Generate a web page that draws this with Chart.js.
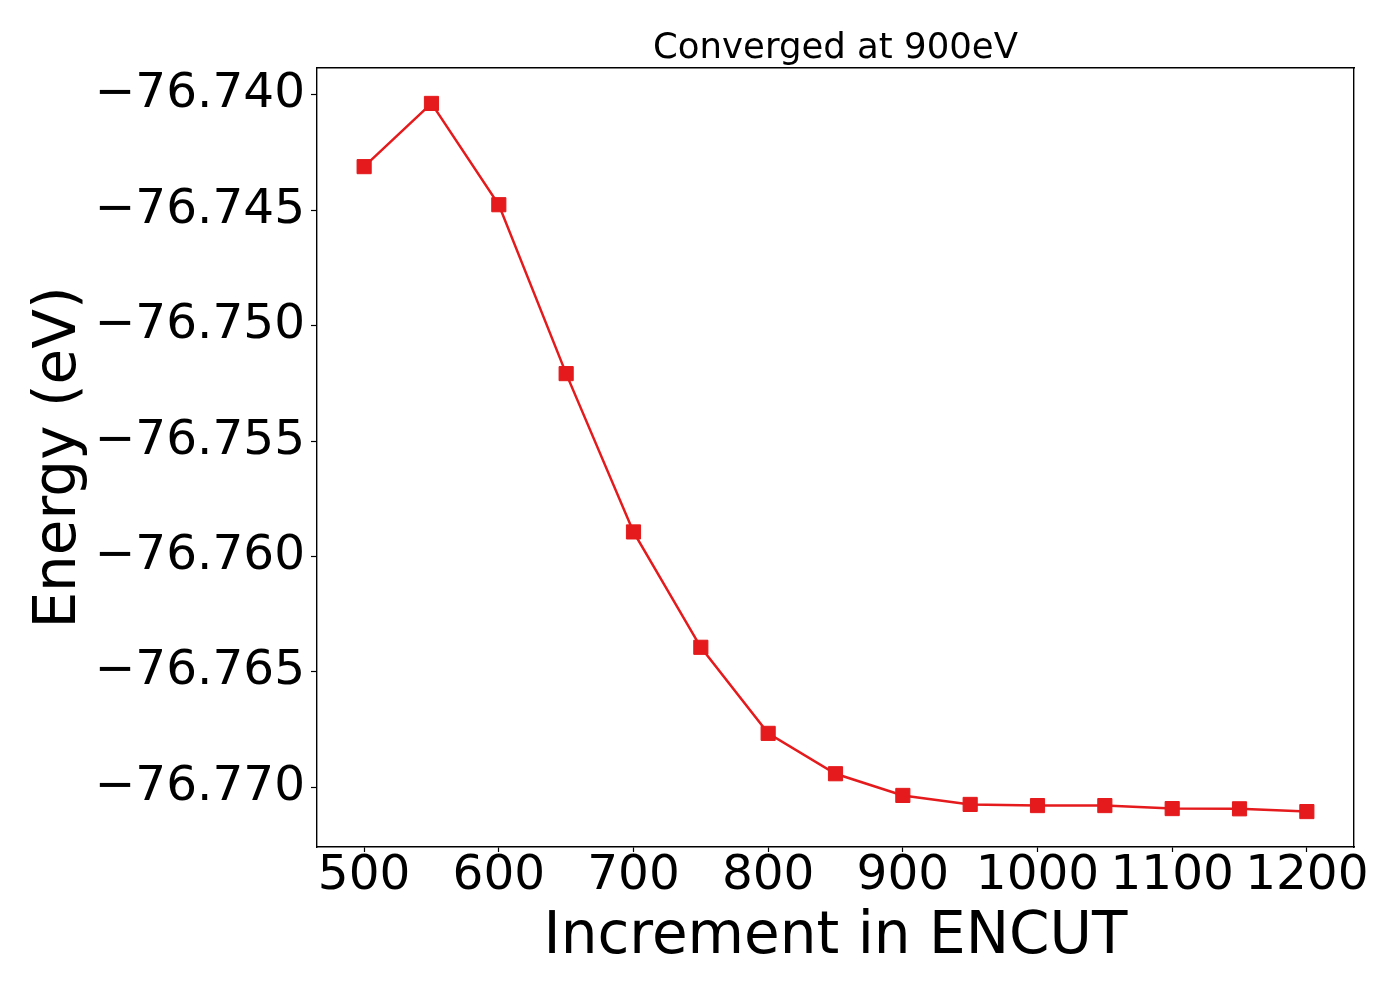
<!DOCTYPE html>
<html>
<head>
<meta charset="utf-8">
<script src="https://cdn.jsdelivr.net/npm/chart.js@4"></script>
<style>
  html, body { margin: 0; padding: 0; background: #fff; }
  #wrap { width: 1400px; height: 1000px; }
</style>
</head>
<body>
<div id="wrap"><canvas id="chartEncut" width="1400" height="1000"></canvas></div>
<script>
const encut = [500, 550, 600, 650, 700, 750, 800, 850, 900, 950, 1000, 1050, 1100, 1150, 1200];
const energy = [
  -76.74311, -76.74037, -76.74476, -76.75208, -76.75894, -76.76394, -76.76767,
  -76.76942, -76.77036, -76.77075, -76.77080, -76.77080, -76.77093, -76.77094, -76.77106
];
const xTicks = [500, 600, 700, 800, 900, 1000, 1100, 1200];
const yTicks = [-76.740, -76.745, -76.750, -76.755, -76.760, -76.765, -76.770];

const FONT = "'DejaVu Sans', sans-serif";
const RED = "#e41a1c";

function fixTicks(list) {
  return (scale) => {
    scale.ticks = list.map((v) => ({ value: v }));
  };
}

function fixSize(key, size) {
  return (scale) => {
    scale[key] = size;
  };
}

const hiddenAxis = {
  ticks: { display: false },
  grid: { drawOnChartArea: false, drawTicks: false },
  border: { display: true, color: "#000", width: 1.4 }
};

new Chart(document.getElementById("chartEncut"), {
  type: "line",
  data: {
    datasets: [
      {
        data: encut.map((x, i) => ({ x, y: energy[i] })),
        borderColor: RED,
        borderWidth: 2.5,
        pointStyle: "rect",
        pointRadius: 10,
        pointBackgroundColor: RED,
        pointBorderColor: RED,
        pointBorderWidth: 1,
        tension: 0
      }
    ]
  },
  options: {
    responsive: false,
    animation: false,
    devicePixelRatio: 1,
    layout: { padding: 0 },
    plugins: {
      legend: { display: false },
      tooltip: { enabled: false }
    },
    scales: {
      x: {
        type: "linear",
        position: "bottom",
        min: 465,
        max: 1235,
        afterBuildTicks: fixTicks(xTicks),
        afterFit: fixSize("height", 153),
        ticks: {
          font: { family: FONT, size: 48.5, lineHeight: 1 },
          color: "#000",
          padding: 0,
          maxRotation: 0,
          autoSkip: false,
          callback: (v) => String(v)
        },
        grid: { drawOnChartArea: false, tickLength: 5, color: "#000", tickWidth: 1.2 },
        border: { display: true, color: "#000", width: 1.4 },
        title: {
          display: true,
          text: "Increment in ENCUT",
          color: "#000",
          font: { family: FONT, size: 58 },
          padding: { top: 0, bottom: 27 }
        }
      },
      xTop: {
        type: "linear",
        position: "top",
        min: 465,
        max: 1235,
        afterFit: fixSize("height", 68),
        ...hiddenAxis,
        title: {
          display: true,
          text: "Converged at 900eV",
          color: "#000",
          font: { family: FONT, size: 35.5 },
          padding: { top: 27, bottom: 0 }
        }
      },
      y: {
        type: "linear",
        position: "left",
        min: -76.772595,
        max: -76.738835,
        afterBuildTicks: fixTicks(yTicks),
        afterFit: fixSize("width", 317),
        ticks: {
          font: { family: FONT, size: 48.5 },
          color: "#000",
          padding: 6,
          autoSkip: false,
          callback: (v) => "\u2212" + Math.abs(v).toFixed(3)
        },
        grid: { drawOnChartArea: false, tickLength: 6, color: "#000", tickWidth: 1.2 },
        border: { display: true, color: "#000", width: 1.4 },
        title: {
          display: true,
          text: "Energy (eV)",
          color: "#000",
          font: { family: FONT, size: 58 },
          padding: { top: 25, bottom: 0 }
        }
      },
      yRight: {
        type: "linear",
        position: "right",
        min: -76.772595,
        max: -76.738835,
        afterFit: fixSize("width", 46),
        ...hiddenAxis
      }
    }
  }
});
</script>
</body>
</html>
